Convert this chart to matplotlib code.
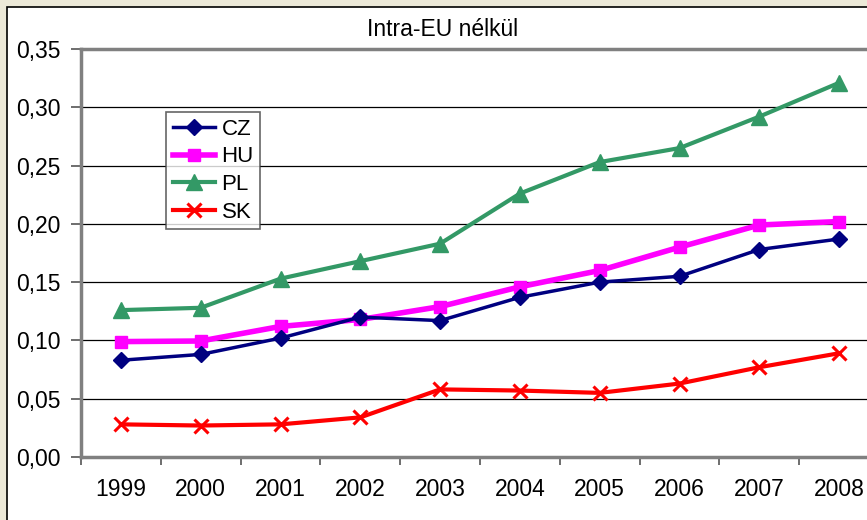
import matplotlib
matplotlib.use("Agg")
import matplotlib.pyplot as plt
from matplotlib.patches import Rectangle

years = ["1999", "2000", "2001", "2002", "2003", "2004", "2005", "2006", "2007", "2008"]
cz = [0.083, 0.088, 0.102, 0.120, 0.117, 0.137, 0.150, 0.155, 0.178, 0.187]
hu = [0.099, 0.0995, 0.112, 0.118, 0.129, 0.146, 0.160, 0.180, 0.199, 0.202]
pl = [0.126, 0.128, 0.153, 0.168, 0.183, 0.226, 0.253, 0.265, 0.292, 0.321]
sk = [0.028, 0.027, 0.028, 0.034, 0.058, 0.057, 0.055, 0.063, 0.077, 0.089]
yticks = [0.00, 0.05, 0.10, 0.15, 0.20, 0.25, 0.30, 0.35]
ytick_labels = ["0,00", "0,05", "0,10", "0,15", "0,20", "0,25", "0,30", "0,35"]

plt.rcParams['font.family'] = ['Liberation Sans', 'DejaVu Sans']

W, H = 867, 520
fig = plt.figure(figsize=(W / 100, H / 100), dpi=100, facecolor='#ECE9D8')

# white chart area with black border (extends off right/bottom)
fig.patches.append(Rectangle((7 / W, -0.1), 1.2, (H - 7.5) / H + 0.1, transform=fig.transFigure,
                             facecolor='white', edgecolor='black', linewidth=1.2, zorder=-10))

left, right, top, bottom = 81, 879, 49, 457
ax = fig.add_axes([left / W, (H - bottom) / H, (right - left) / W, (bottom - top) / H])
ax.set_zorder(5)
ax.set_facecolor('white')

x = list(range(len(years)))
ax.plot(x, cz, color='#000080', lw=2.5, marker='D', ms=8, label='CZ', zorder=5)
ax.plot(x, hu, color='#FF00FF', lw=4, marker='s', ms=9, label='HU', zorder=4)
ax.plot(x, pl, color='#339966', lw=3, marker='^', ms=11, label='PL', zorder=3)
ax.plot(x, sk, color='#FF0000', lw=3, marker='x', ms=10, mew=2.2, label='SK', zorder=6)

ax.set_xlim(-0.5, len(years) - 0.5)
ax.set_ylim(0, 0.35)
ax.set_yticks(yticks)
ax.set_yticklabels(ytick_labels, fontsize=16.5)
ax.yaxis.grid(True, color='black', lw=0.9)
ax.set_axisbelow(True)

ax.set_xticks([i - 0.5 for i in range(len(years) + 1)])
ax.set_xticklabels([])
ax.set_xticks(x, minor=True)
ax.set_xticklabels(years, minor=True, fontsize=16.5)
ax.tick_params(axis='x', which='minor', length=0, pad=15)
ax.tick_params(axis='x', which='major', length=6, width=1.2, color='#555555', direction='out')
ax.tick_params(axis='y', length=7, width=1.2, color='#555555', direction='out', pad=8)

for s in ['left', 'bottom', 'top']:
    ax.spines[s].set_color('#808080')
    ax.spines[s].set_linewidth(2.5)
ax.spines['right'].set_visible(False)

leg = ax.legend(loc='upper left', bbox_to_anchor=((166 - left) / (right - left), (bottom - 112) / (bottom - top)),
                fontsize=16, frameon=True, fancybox=False, borderpad=0.3, handlelength=1.9,
                handletextpad=0.3, labelspacing=0.3, borderaxespad=0)
leg.get_frame().set_edgecolor('#404040')
leg.get_frame().set_linewidth(1.2)

fig.text(443 / W, 1 - 29 / H, "Intra-EU nélkül", ha='center', va='center', fontsize=16.5)

fig.savefig('out.png', dpi=100, facecolor=fig.get_facecolor())
